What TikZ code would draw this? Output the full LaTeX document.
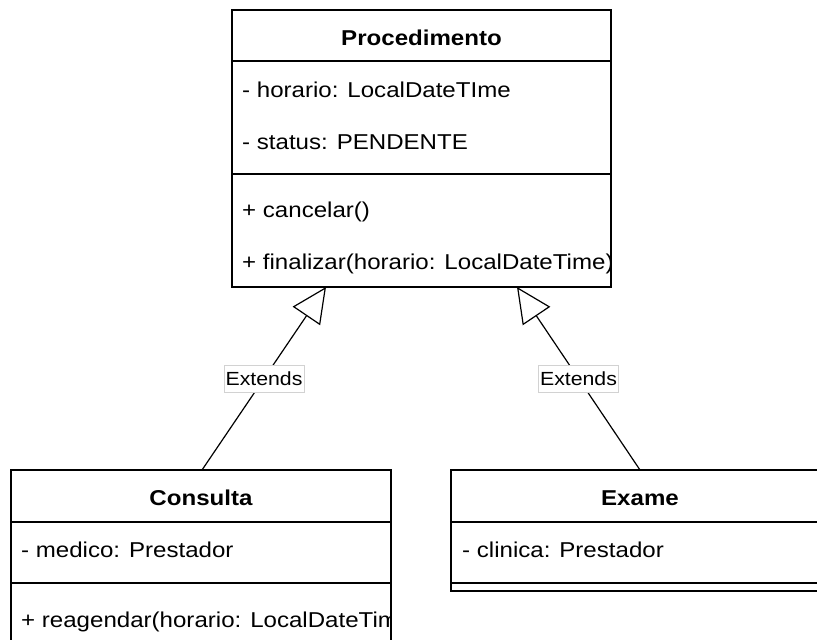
\documentclass[tikz,border=0pt]{standalone}
\usepackage{fontspec}
\setmainfont{Liberation Sans}[FakeStretch=1.12]
\usetikzlibrary{arrows.meta}

\tikzset{
    classbox/.style={draw, line width=1.6pt, inner sep=0pt},
    classname/.style={anchor=base, font=\fontsize{21.5}{26}\selectfont\bfseries},
    member/.style={anchor=base west, inner sep=0pt, font=\fontsize{21.5}{26}\selectfont},
    extlabel/.style={draw=gray!35, line width=0.6pt, fill=white, inner sep=1.5pt,
        minimum height=27pt, font=\fontsize{19}{22}\selectfont},
    extends/.style={line width=1.2pt, -{Triangle[open, length=35pt, width=33pt]}}
}

\begin{document}
\begin{tikzpicture}[x=1pt, y=-1pt]
    \clip (0,0) rectangle (817,640);
    \fill[white] (0,0) rectangle (817,640);

    % Procedimento
    \node[classbox, minimum width=379pt, minimum height=277pt] (proc) at (421.5,148.5) {};
    \foreach \y in {61,174} {
        \draw[line width=1.6pt] (232,\y) -- (611,\y);
    }
    \node[classname] (procName) at (421.5,45) {Procedimento};
    \begin{scope}
        \clip (232,10) rectangle (611,287);
        \node[member] (procHorario) at (242,97) {- horario: LocalDateTIme};
        \node[member] (procStatus) at (242,149) {- status: PENDENTE};
        \node[member] (procCancelar) at (242,217) {+ cancelar()};
        \node[member] (procFinalizar) at (242,269) {+ finalizar(horario: LocalDateTime)};
    \end{scope}

    % Consulta
    \node[classbox, minimum width=380pt, minimum height=190pt] (cons) at (201,565) {};
    \foreach \y in {522,583} {
        \draw[line width=1.6pt] (11,\y) -- (391,\y);
    }
    \node[classname] (consName) at (201,505) {Consulta};
    \begin{scope}
        \clip (11,470) rectangle (391,660);
        \node[member] (consMedico) at (21,557) {- medico: Prestador};
        \node[member] (consReagendar) at (21,627) {+ reagendar(horario: LocalDateTime)};
    \end{scope}

    % Exame
    \node[classbox, minimum width=380pt, minimum height=121pt] (exam) at (641,530.5) {};
    \foreach \y in {522,583} {
        \draw[line width=1.6pt] (451,\y) -- (831,\y);
    }
    \node[classname] (examName) at (640,505) {Exame};
    \node[member] (examClinica) at (462,557) {- clinica: Prestador};

    % heranca
    \coordinate (procL) at (326,287);
    \coordinate (procR) at (517,287);
    \coordinate (consTop) at (202,470);
    \coordinate (examTop) at (640,470);
    \draw[extends] (consTop) -- node[extlabel] (extL) {Extends} (procL);
    \draw[extends] (examTop) -- node[extlabel] (extR) {Extends} (procR);
\end{tikzpicture}
\end{document}
